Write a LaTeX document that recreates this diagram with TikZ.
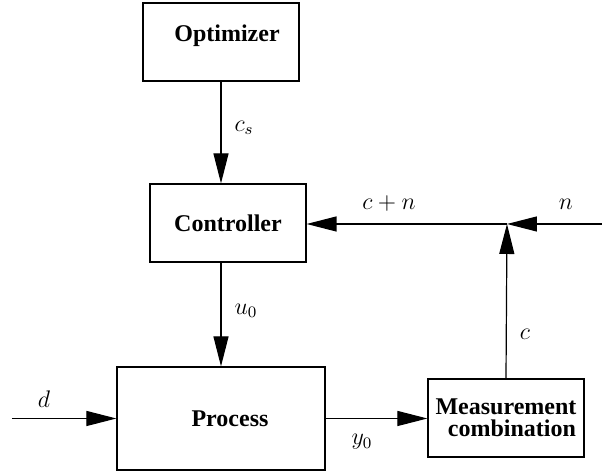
\documentclass[tikz,border=0pt]{standalone}
\usepackage[no-math]{fontspec}
\setmainfont{Liberation Serif}
\usetikzlibrary{arrows.meta}
\tikzset{
  block/.style={draw,line width=0.6pt,minimum width=78pt,minimum height=39pt,inner sep=0pt,font=\fontsize{12}{11}\selectfont\bfseries,align=center},
  sig/.style={font=\fontsize{12}{14}\selectfont},
  flow/.style={line width=0.6pt,-{Triangle[length=15pt,width=7.5pt]}}
}
\begin{document}
\begin{tikzpicture}[x=0.5pt,y=-0.5pt]
	\useasboundingbox (0,0) rectangle (602,474);
	\node[block,text depth=9pt] (opt) at (221,42) {\hspace*{6pt}Optimizer};
	\node[block] (ctrl) at (228,223) {Controller};
	\node[block,minimum width=104pt,minimum height=51.5pt] (proc) at (221,418.5) {\hspace*{9pt}Process};
	\node[block] (meas) at (506,418) {Measurement\\\hspace*{6pt}combination};
	\coordinate (sum) at (507,224);
	\coordinate (nin) at (602,224);
	\coordinate (din) at (12,418.5);
	\draw[flow] (opt.south) -- (opt.south |- ctrl.north);
	\draw[flow] (ctrl.south -| proc.north) -- (proc.north);
	\draw[flow] (din) -- (proc.west);
	\draw[flow] (proc.east) -- (proc.east -| meas.west);
	\draw[flow] (meas.north) -- (sum);
	\draw[flow] (nin) -- (sum);
	\draw[flow] (sum) -- (sum -| ctrl.east);
	\node[sig] (lcs) at (244,128) {$c_s$};
	\node[sig] (lu) at (246,311) {$u_0$};
	\node[sig] (ld) at (44,399) {$d$};
	\node[sig] (ly) at (362,442) {$y_0$};
	\node[sig] (lc) at (525,334) {$c$};
	\node[sig] (lcn) at (389,204) {$c+n$};
	\node[sig] (ln) at (566,204) {$n$};
\end{tikzpicture}
\end{document}
